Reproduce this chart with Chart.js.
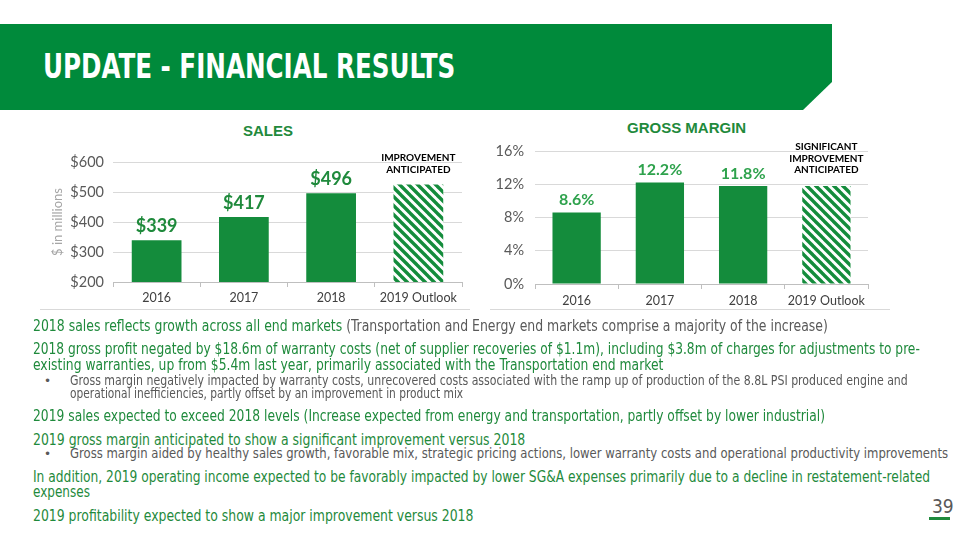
<!DOCTYPE html>
<html><head><meta charset="utf-8">
<script src="https://cdn.jsdelivr.net/npm/chart.js@4.4.1/dist/chart.umd.min.js"></script>
<style>
body{margin:0;width:960px;height:540px;position:relative;overflow:hidden;background:#fff;font-family:"Liberation Sans Narrow","DejaVu Sans Condensed",sans-serif;}
#banner{position:absolute;left:0;top:24px;width:832px;height:86px;background:#008a3b;clip-path:polygon(0 0,832px 0,832px 58px,803px 86px,0 86px);}
#title{position:absolute;left:43px;top:49px;color:#fff;font-weight:bold;font-size:34px;line-height:34px;white-space:nowrap;transform-origin:0 0;}
.t{position:absolute;white-space:nowrap;transform-origin:0 0;}
.m{left:33px;font-size:15.5px;line-height:16px;color:#1f8a3c;}
.b{left:70px;font-size:14px;line-height:14px;color:#595959;}
.g{color:#595959;}
.dot{position:absolute;left:44px;font-size:12px;color:#595959;font-family:"DejaVu Sans",sans-serif;}
.ct{position:absolute;font-family:"Liberation Sans",Arial,sans-serif;font-weight:bold;color:#1f8a3c;font-size:15px;}
.cw{position:absolute;}
.sep{position:absolute;height:1px;background:#d9d9d9;top:309px;}
#pg{position:absolute;left:932px;top:495px;font-size:19px;color:#595959;}
#pgl{position:absolute;left:929px;top:517px;width:21px;height:3px;background:#1f8a3c;}
</style></head>
<body>
<div id="banner"></div>
<div id="title" class="fit" data-w="412">UPDATE - FINANCIAL RESULTS</div>

<div class="ct" style="left:243px;top:122px;">SALES</div>
<div class="ct" style="left:627px;top:119px;">GROSS MARGIN</div>
<div class="cw" style="left:40px;top:140px;width:430px;height:170px;"><canvas id="sales"></canvas></div>
<div class="cw" style="left:490px;top:130px;width:400px;height:180px;"><canvas id="margin"></canvas></div>
<div class="sep" style="left:40px;width:430px;"></div>
<div class="sep" style="left:490px;width:400px;"></div>

<div class="t m fit" data-w="795" style="top:318px;">2018 sales reflects growth across all end markets <span class="g">(Transportation and Energy end markets comprise a majority of the increase)</span></div>
<div class="t m fit" data-w="887" style="top:341px;">2018 gross profit negated by $18.6m of warranty costs (net of supplier recoveries of $1.1m), including $3.8m of charges for adjustments to pre-</div>
<div class="t m fit" data-w="630" style="top:357px;">existing warranties, up from $5.4m last year, primarily associated with the Transportation end market</div>
<div class="dot" style="top:374px;">•</div>
<div class="t b fit" data-w="838" style="top:373px;">Gross margin negatively impacted by warranty costs, unrecovered costs associated with the ramp up of production of the 8.8L PSI produced engine and</div>
<div class="t b fit" data-w="393" style="top:386px;">operational inefficiencies, partly offset by an improvement in product mix</div>
<div class="t m fit" data-w="792" style="top:408px;">2019 sales expected to exceed 2018 levels (Increase expected from energy and transportation, partly offset by lower industrial)</div>
<div class="t m fit" data-w="492" style="top:432px;">2019 gross margin anticipated to show a significant improvement versus 2018</div>
<div class="dot" style="top:447px;">•</div>
<div class="t b fit" data-w="878" style="top:446px;">Gross margin aided by healthy sales growth, favorable mix, strategic pricing actions, lower warranty costs and operational productivity improvements</div>
<div class="t m fit" data-w="897" style="top:469px;">In addition, 2019 operating income expected to be favorably impacted by lower SG&amp;A expenses primarily due to a decline in restatement-related</div>
<div class="t m fit" data-w="57" style="top:484px;">expenses</div>
<div class="t m fit" data-w="440" style="top:508px;">2019 profitability expected to show a major improvement versus 2018</div>
<div id="pg">39</div>
<div id="pgl"></div>

<script>
// ---- data ----
const categories = ['2016', '2017', '2018', '2019 Outlook'];
const salesValues = [339, 417, 496, 525];
const salesLabels = ['$339', '$417', '$496', ''];
const marginValues = [8.6, 12.2, 11.8, 11.8];
const marginLabels = ['8.6%', '12.2%', '11.8%', ''];
const salesNote = ['IMPROVEMENT', 'ANTICIPATED'];
const marginNote = ['SIGNIFICANT', 'IMPROVEMENT', 'ANTICIPATED'];
const salesAxisTitle = '$ in millions';

// fit text widths
document.querySelectorAll('.fit').forEach(el => {
  const w = +el.dataset.w;
  const s = w / el.scrollWidth;
  el.style.transform = 'scaleX(' + s + ')';
});

const GREEN = '#148c3c';
function hatch() {
  const s = 9;
  const c = document.createElement('canvas');
  c.width = s; c.height = s;
  const x = c.getContext('2d');
  x.fillStyle = '#fff'; x.fillRect(0, 0, s, s);
  x.strokeStyle = GREEN; x.lineWidth = 3.4;
  for (let k = -1; k <= 1; k++) {
    x.beginPath(); x.moveTo(-1, k * s - 1); x.lineTo(s + 1, s + k * s + 1); x.stroke();
  }
  return x.createPattern(c, 'repeat');
}
const pat = hatch();
const colors = [GREEN, GREEN, GREEN, pat];

const labelPlugin = {
  id: 'vlabels',
  afterDatasetsDraw(chart, args, o) {
    const ctx = chart.ctx;
    const meta = chart.getDatasetMeta(0);
    ctx.save();
    ctx.textAlign = 'center'; ctx.textBaseline = 'middle';
    meta.data.forEach((bar, i) => {
      if (!o.labels[i]) return;
      ctx.fillStyle = o.color;
      ctx.font = 'bold ' + o.size + 'px Lato';
      ctx.fillText(o.labels[i], bar.x, bar.y - o.offset);
    });
    const last = meta.data[meta.data.length - 1];
    ctx.fillStyle = '#000';
    ctx.font = 'bold 10px Lato';
    const n = o.note.length;
    o.note.forEach((t, j) => {
      ctx.fillText(t, last.x, last.y - o.noteOffset - (n - 1 - j) * 11.5);
    });
    ctx.restore();
  }
};

function makeChart(id, values, opt) {
  return new Chart(document.getElementById(id), {
    type: 'bar',
    data: { labels: categories, datasets: [{ data: values, backgroundColor: colors, barPercentage: opt.bp, categoryPercentage: 1 }] },
    plugins: [labelPlugin],
    options: {
      responsive: true, maintainAspectRatio: false, animation: false,
      layout: { padding: opt.pad },
      plugins: { legend: { display: false }, tooltip: { enabled: false }, vlabels: opt.lab },
      scales: {
        x: {
          grid: { display: true, offset: true, drawOnChartArea: false, drawTicks: true, tickLength: 5, color: '#bfbfbf' },
          border: { display: true, color: '#bfbfbf' },
          ticks: { color: '#404040', font: { family: 'Lato', size: 12.5 }, padding: opt.xpad, maxRotation: 0 },
          afterFit: s => { s.height = opt.xh; }
        },
        y: {
          min: opt.min, max: opt.max,
          grid: { color: '#d9d9d9', drawTicks: false },
          border: { display: false },
          ticks: { stepSize: opt.step, color: '#595959', font: { family: 'Lato', size: 14.5 }, padding: opt.ypad, callback: opt.fmt },
          title: opt.title ? { display: true, text: opt.title, color: '#a6a6a6', font: { family: 'Lato', size: 13 }, padding: { top: 10, bottom: 0 } } : { display: false },
          afterFit: s => { s.width = opt.yw; }
        }
      }
    }
  });
}

makeChart('sales', salesValues, {
  bp: 0.57, pad: { left: 0, right: 8, top: 22, bottom: 4 }, xh: 24, yw: 73, xpad: 3, ypad: 9,
  min: 200, max: 600, step: 100, fmt: v => '$' + v, title: salesAxisTitle,
  lab: { labels: salesLabels, color: '#1f8a3c', size: 18, offset: 14, note: salesNote, noteOffset: 15 }
});
makeChart('margin', marginValues, {
  bp: 0.58, pad: { left: 0, right: 22, top: 21, bottom: 4 }, xh: 22, yw: 45, xpad: 4, ypad: 11,
  min: 0, max: 16, step: 4, fmt: v => v + '%', title: null,
  lab: { labels: marginLabels, color: '#2ea24c', size: 16, offset: 12.5, note: marginNote, noteOffset: 16 }
});
</script>
</body></html>
